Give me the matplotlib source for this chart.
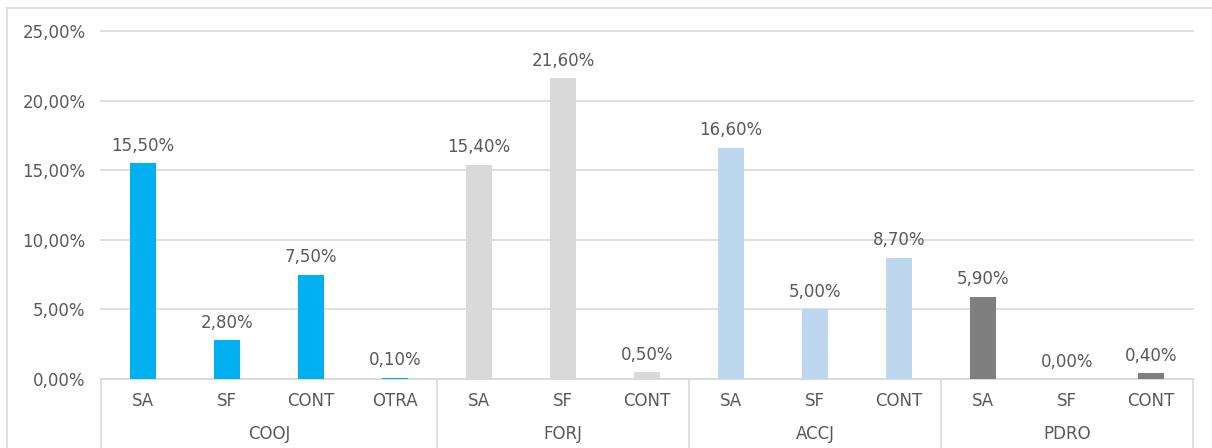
import matplotlib
matplotlib.use("Agg")
import matplotlib.pyplot as plt
from matplotlib.lines import Line2D
from matplotlib.ticker import FuncFormatter, MultipleLocator

plt.rcParams['font.family'] = ['DejaVu Sans']

groups = ["COOJ", "FORJ", "ACCJ", "PDRO"]
subcats = [["SA", "SF", "CONT", "OTRA"],
           ["SA", "SF", "CONT"],
           ["SA", "SF", "CONT"],
           ["SA", "SF", "CONT"]]
values = [[15.5, 2.8, 7.5, 0.1],
          [15.4, 21.6, 0.5],
          [16.6, 5.0, 8.7],
          [5.9, 0.0, 0.4]]
colors = ["#00B0F0", "#D9D9D9", "#BDD7EE", "#7F7F7F"]

TXT = "#595959"
GRID = "#D9D9D9"
FS = 12

W, H = 1212, 448
fig = plt.figure(figsize=(W / 100, H / 100), dpi=100)
left_px, right_px, y0_px, ytop_px = 101, 1193, 379, 31
ax = fig.add_axes([left_px / W, (H - y0_px) / H, (right_px - left_px) / W, (y0_px - ytop_px) / H])

def fmt(v):
    return f"{v:.2f}".replace(".", ",") + "%"

x = 0
positions = []
bounds = [0]
for gi, (cats, vals) in enumerate(zip(subcats, values)):
    for c, v in zip(cats, vals):
        ax.bar(x, v, width=0.31, color=colors[gi], zorder=3)
        ax.annotate(fmt(v), (x, v), xytext=(0, 9), textcoords="offset points",
                    ha="center", va="baseline", fontsize=FS, color=TXT)
        positions.append((x, c))
        x += 1
    bounds.append(x)

n = x
ax.set_xlim(-0.5, n - 0.5)
ax.set_ylim(0, 25)
ax.yaxis.set_major_locator(MultipleLocator(5))
ax.yaxis.set_major_formatter(FuncFormatter(lambda v, p: fmt(v)))
ax.tick_params(axis="y", length=0, pad=11, labelsize=FS, labelcolor=TXT)
ax.set_xticks([])
ax.grid(axis="y", color=GRID, linewidth=1.2, zorder=0)
for gl in ax.get_ygridlines():
    gl.set_clip_on(False)
for s in ["top", "right", "left"]:
    ax.spines[s].set_visible(False)
ax.spines["bottom"].set_color(GRID)
ax.spines["bottom"].set_linewidth(1.2)

# category labels (two levels)
ax_h = y0_px - ytop_px
def ay(px_below):
    return -px_below / ax_h

trans = ax.get_xaxis_transform()
for xp, c in positions:
    ax.text(xp, ay(401 - y0_px), c, transform=trans, ha="center", va="center",
            fontsize=FS, color=TXT)
for gi, g in enumerate(groups):
    cx = (bounds[gi] + bounds[gi + 1] - 1) / 2
    ax.text(cx, ay(434 - y0_px), g, transform=trans, ha="center", va="center",
            fontsize=FS, color=TXT)
for b in bounds:
    ax.plot([b - 0.5, b - 0.5], [0, ay(H - y0_px + 2)], transform=trans,
            color=GRID, linewidth=1.2, clip_on=False)

# chart area border (top and left)
fig.add_artist(Line2D([7 / W, 7 / W], [0, (H - 8) / H], color=GRID, linewidth=1.2))
fig.add_artist(Line2D([7 / W, 1], [(H - 8) / H, (H - 8) / H], color=GRID, linewidth=1.2))

fig.savefig("out.png", dpi=100, facecolor="white")
